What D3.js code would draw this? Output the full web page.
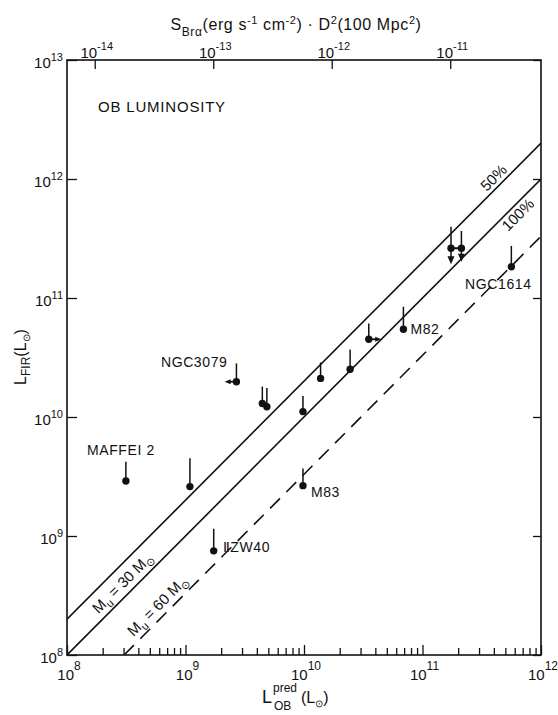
<!DOCTYPE html>
<html>
<head>
<meta charset="utf-8">
<script src="https://cdn.jsdelivr.net/npm/d3@7"></script>
<style>
  body { margin: 0; background: #fff; }
  svg text { font-family: "Liberation Sans", Arial, sans-serif; fill: #111; }
</style>
</head>
<body>
<svg id="chart" width="558" height="715"></svg>
<script>
// predicted OB luminosity vs far-infrared luminosity, both in L_sun
const galaxyNames = ["MAFFEI 2", "", "ⅡZW40", "NGC3079", "", "", "", "M83", "", "", "", "M82", "", "", "NGC1614"];
const obPred  = [3.14e8, 1.09e9, 1.73e9, 2.69e9, 4.45e9, 4.86e9, 9.8e9, 9.8e9, 1.38e10, 2.45e10, 3.52e10, 6.9e10, 1.74e11, 2.13e11, 5.62e11];
const firLum  = [2.9e9, 2.6e9, 7.5e8, 1.98e10, 1.30e10, 1.22e10, 1.11e10, 2.65e9, 2.11e10, 2.52e10, 4.5e10, 5.46e10, 2.62e11, 2.62e11, 1.83e11];
const firHigh = [4.2e9, 4.5e9, 1.15e9, 2.82e10, 1.80e10, 1.75e10, 1.5e10, 3.7e9, 2.87e10, 3.7e10, 6.1e10, 8.45e10, 3.97e11, 3.66e11, 2.74e11];
// upper limits on L_FIR (arrow down to this value)
const firLimit = [null, null, null, null, null, null, null, null, null, null, null, null, 1.92e11, 2.02e11, null];
// limits on L_OB (horizontal arrow to this value)
const obLimit  = [null, null, null, 2.14e9, null, null, null, null, null, null, 4.48e10, null, null, null, null];
const linkedPairs = [[12, 13]];

// model lines L_FIR = ratio * L_OB
const lineRatios = [2, 1, 0.33];
const lineNames = ["50%", "100%", ""];

const xTicks = [1e8, 1e9, 1e10, 1e11, 1e12];
const yTicks = [1e8, 1e9, 1e10, 1e11, 1e12, 1e13];
const brTicks = [1e-14, 1e-13, 1e-12, 1e-11];
const brPerL = Math.pow(10, -22.234); // S_Bra * D^2 per unit L_OB

const svg = d3.select("#chart");
const mLeft = 67, mRight = 541, mTop = 60, mBottom = 655;

const x = d3.scaleLog().domain([1e8, 1e12]).range([mLeft, mRight]);
const y = d3.scaleLog().domain([1e8, 1e13]).range([mBottom, mTop]);
const xTop = d3.scaleLog().domain(x.domain().map(v => v * brPerL)).range([mLeft, mRight]);

function rich(t, parts, size) {
  let cur = 0;
  parts.forEach(p => {
    const shift = p[1] || 0;
    t.append("tspan").attr("dy", shift - cur).style("font-size", (p[2] || size) + "px").text(p[0]);
    cur = shift;
  });
  return t;
}

function ticksOnly(g, axis) {
  g.call(axis);
  g.select(".domain").remove();
  g.selectAll(".tick line").attr("stroke", "#111").attr("stroke-width", 1.3);
  g.selectAll(".tick text").remove();
}

// frame
svg.append("rect").attr("x", mLeft).attr("y", mTop)
  .attr("width", mRight - mLeft).attr("height", mBottom - mTop)
  .attr("fill", "none").attr("stroke", "#111").attr("stroke-width", 1.6);

// bottom axis: major + minor ticks, inward
const minor = [];
xTicks.slice(0, -1).forEach(d => { for (let k = 2; k <= 9; k++) minor.push(d * k); });
ticksOnly(svg.append("g").attr("transform", `translate(0,${mBottom})`),
  d3.axisBottom(x).tickValues(minor).tickSizeInner(-7).tickSizeOuter(0));
ticksOnly(svg.append("g").attr("transform", `translate(0,${mBottom})`),
  d3.axisBottom(x).tickValues(xTicks).tickSizeInner(-10).tickSizeOuter(0));
ticksOnly(svg.append("g").attr("transform", `translate(${mLeft},0)`),
  d3.axisLeft(y).tickValues(yTicks).tickSizeInner(-10).tickSizeOuter(0));
ticksOnly(svg.append("g").attr("transform", `translate(${mRight},0)`),
  d3.axisRight(y).tickValues(yTicks).tickSizeInner(-8).tickSizeOuter(0));
ticksOnly(svg.append("g").attr("transform", `translate(0,${mTop})`),
  d3.axisTop(xTop).tickValues(brTicks).tickSizeInner(-9).tickSizeOuter(0));

const expo = v => String(Math.round(Math.log10(v)));

xTicks.forEach(v => {
  rich(svg.append("text").attr("x", x(v) + 2).attr("y", mBottom + 25).attr("text-anchor", "middle"),
    [["10"], [expo(v), -10, 12]], 15);
});
yTicks.forEach(v => {
  rich(svg.append("text").attr("x", mLeft - 4).attr("y", y(v) + 8).attr("text-anchor", "end"),
    [["10"], [expo(v), -7, 11]], 15);
});
brTicks.forEach(v => {
  rich(svg.append("text").attr("x", xTop(v) + 2).attr("y", mTop - 2).attr("text-anchor", "middle"),
    [["10"], [expo(v), -8, 11]], 15);
});

// axis titles
rich(svg.append("text").attr("x", 296).attr("y", 30).attr("text-anchor", "middle")
  .style("letter-spacing", "0.6px"),
  [["S"], ["Brα", 6, 12], ["(erg s"], ["-1", -6, 11], [" cm"], ["-2", -6, 11],
   [") · D"], ["2", -6, 11], ["(100 Mpc"], ["2", -6, 11], [")"]], 16);

svg.append("text").attr("x", 262).attr("y", 703).style("font-size", "18px").text("L");
svg.append("text").attr("x", 273).attr("y", 692).style("font-size", "12px").text("pred");
svg.append("text").attr("x", 274).attr("y", 710).style("font-size", "12px").text("OB");
rich(svg.append("text").attr("x", 301).attr("y", 703),
  [["(L"], ["⊙", 4, 10], [")"]], 16);

rich(svg.append("text").attr("transform", "translate(26,357) rotate(-90)").attr("text-anchor", "middle"),
  [["L"], ["FIR", 4, 12], ["(L"], ["⊙", 4, 10], [")"]], 16);

svg.append("text").attr("x", 98).attr("y", 112).style("font-size", "15px")
  .style("letter-spacing", "0.8px").text("OB LUMINOSITY");

// model lines
svg.append("clipPath").attr("id", "plotClip").append("rect")
  .attr("x", mLeft).attr("y", mTop).attr("width", mRight - mLeft).attr("height", mBottom - mTop);
const plot = svg.append("g").attr("clip-path", "url(#plotClip)");
const angle = Math.atan2(y(1e12) - y(1e8), x(1e12) - x(1e8)) * 180 / Math.PI;

lineRatios.forEach((k, i) => {
  const x0 = Math.max(1e8, 1e8 / k), x1 = Math.min(1e12, 1e13 / k);
  plot.append("path").datum([x0, x1])
    .attr("d", d3.line().x(d => x(d)).y(d => y(k * d)))
    .attr("fill", "none").attr("stroke", "#111").attr("stroke-width", 1.6)
    .attr("stroke-dasharray", k < 1 ? "14,9" : null);
});

function lineLabel(k, at, off, parts) {
  const t = svg.append("text")
    .attr("transform", `translate(${x(at)},${y(k * at)}) rotate(${angle})`)
    .attr("y", off).attr("text-anchor", "middle");
  rich(t, parts, 15);
}
lineLabel(lineRatios[0], Math.pow(10, 11.655), -4, [[lineNames[0]]]);
lineLabel(lineRatios[1], Math.pow(10, 11.752), 14, [[lineNames[1]]]);
lineLabel(lineRatios[1], Math.pow(10, 8.537), -6.5, [["M"], ["u", 4, 11], [" = 30 M"], ["⊙", 4, 11]]);
lineLabel(lineRatios[2], Math.pow(10, 8.83), -6, [["M"], ["u", 4, 11], [" = 60 M"], ["⊙", 4, 11]]);

// galaxies
const marks = svg.append("g");
function arrowHead(tx, ty, dx, dy, len, half) {
  const bx = tx - dx * len, by = ty - dy * len;
  const px = -dy * half, py = dx * half;
  marks.append("path")
    .attr("d", `M${tx},${ty}L${bx + px},${by + py}L${bx - px},${by - py}Z`)
    .attr("fill", "#111");
}

obPred.forEach((ob, i) => {
  const cx = x(ob), cy = y(firLum[i]);
  const yEnd = firLimit[i] ? y(firLimit[i]) : cy;
  marks.append("line").attr("x1", cx).attr("x2", cx)
    .attr("y1", y(firHigh[i])).attr("y2", firLimit[i] ? yEnd - 6 : cy)
    .attr("stroke", "#111").attr("stroke-width", 1.5);
  if (firLimit[i]) arrowHead(cx, yEnd, 0, 1, 8, 3.5);
  if (obLimit[i]) {
    const ex = x(obLimit[i]), dir = ex < cx ? -1 : 1;
    marks.append("line").attr("x1", cx).attr("x2", ex - dir * 4)
      .attr("y1", cy).attr("y2", cy).attr("stroke", "#111").attr("stroke-width", 1.8);
    arrowHead(ex, cy, dir, 0, 6, 2.5);
  }
  marks.append("circle").attr("cx", cx).attr("cy", cy).attr("r", 3.7).attr("fill", "#111");
});

linkedPairs.forEach(([a, b]) => {
  marks.append("line")
    .attr("x1", x(obPred[a])).attr("x2", x(obPred[b]))
    .attr("y1", y(firLum[a])).attr("y2", y(firLum[b]))
    .attr("stroke", "#111").attr("stroke-width", 2);
});

const labelPlace = {
  "MAFFEI 2": { dx: -5, dy: -26, anchor: "middle" },
  "NGC3079": { dx: -9, dy: -15, anchor: "end" },
  "ⅡZW40": { dx: 9, dy: 1, anchor: "start" },
  "M83": { dx: 8, dy: 11, anchor: "start" },
  "M82": { dx: 7, dy: 5, anchor: "start" },
  "NGC1614": { dx: -13, dy: 22, anchor: "middle" }
};
galaxyNames.forEach((name, i) => {
  if (!name) return;
  const p = labelPlace[name];
  svg.append("text")
    .attr("x", x(obPred[i]) + p.dx).attr("y", y(firLum[i]) + p.dy)
    .attr("text-anchor", p.anchor)
    .style("font-size", "14px").style("letter-spacing", "0.6px")
    .text(name);
});
</script>
</body>
</html>
